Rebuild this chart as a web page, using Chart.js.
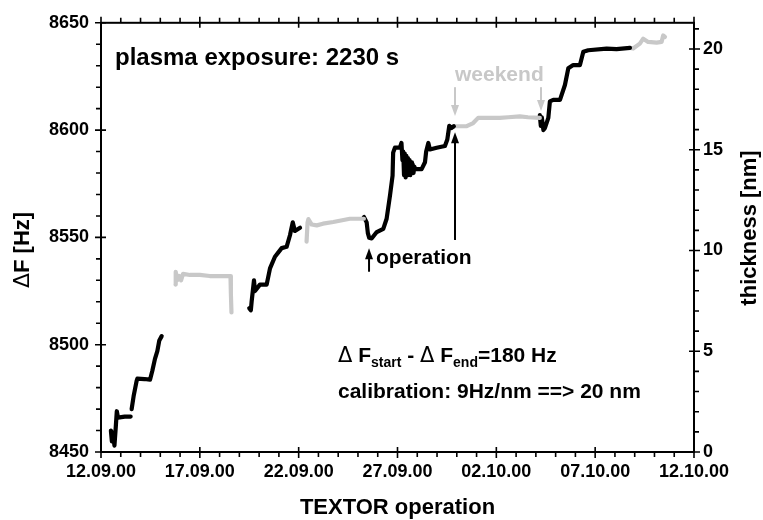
<!DOCTYPE html>
<html>
<head>
<meta charset="utf-8">
<script src="https://cdn.jsdelivr.net/npm/chart.js@4.4.0/dist/chart.umd.min.js"></script>
<style>
    html, body { margin: 0; padding: 0; background: #fff; }
    #wrap { width: 763px; height: 520px; }
</style>
</head>
<body>
<div id="wrap"><canvas id="chart"></canvas></div>
<script>
// x: days after 12.09.00, y: delta F in Hz
const dateLabels = ['12.09.00', '17.09.00', '22.09.00', '27.09.00', '02.10.00', '07.10.00', '12.10.00'];

// operation 1 (black)
const op1Days = [0.50, 0.55, 0.60, 0.68, 0.75, 0.80, 0.86, 1.20, 1.50, 1.52, 1.55, 1.65, 1.80, 1.84, 2.20, 2.48, 2.60, 2.73, 2.85, 2.95, 3.07];
const op1Hz   = [8460, 8455, 8459, 8453, 8462, 8469, 8466, 8466.5, 8466.5, null, 8470, 8476, 8483, 8484.2, 8484, 8483.7, 8488, 8493.4, 8497, 8502, 8504];
// weekend 1 (grey)
const wk1Days = [3.77, 3.78, 3.85, 3.95, 4.05, 4.15, 4.50, 5.00, 5.50, 6.00, 6.55, 6.57, 6.60];
const wk1Hz   = [8528, 8534, 8530, 8532, 8530, 8533, 8532.5, 8532.5, 8532, 8532, 8532, 8524, 8515];
// operation 2
const op2Days = [7.50, 7.58, 7.62, 7.74, 7.79, 8.04, 8.38, 8.55, 8.80, 9.14, 9.39, 9.56, 9.70, 9.81, 10.07];
const op2Hz   = [8517, 8516, 8520, 8530, 8525, 8528, 8528, 8535.6, 8541, 8545, 8545.6, 8551, 8557, 8553, 8554.5];
// weekend 2
const wk2Days = [10.40, 10.45, 10.49, 10.66, 10.91, 11.23, 11.75, 12.59, 13.30];
const wk2Hz   = [8548, 8557, 8558.5, 8556, 8555.6, 8556.4, 8557.2, 8558.7, 8558.7];
// operation 3
const op3Days = [13.30, 13.44, 13.50, 13.57, 13.69, 13.95, 14.28, 14.45, 14.62, 14.75, 14.78, 14.87, 15.12, 15.20, 15.25,
                 15.29, 15.33, 15.37, 15.41, 15.45, 15.49, 15.53, 15.57, 15.61, 15.65, 15.69, 15.73, 15.77, 15.81, 15.85, 15.90,
                 16.22, 16.39, 16.45, 16.56, 16.64, 16.98, 17.40, 17.52, 17.62, 17.74, 17.85];
const op3Hz   = [8559.5, 8557, 8552, 8549.8, 8549.5, 8552.5, 8554, 8558.7, 8569.5, 8578.7, 8589.5, 8591.8, 8591.8, 8594, 8586,
                 8590, 8579, 8589, 8578, 8588, 8579, 8587, 8580, 8586, 8579, 8585, 8580, 8584, 8580, 8583, 8581.8,
                 8581.8, 8585, 8590, 8594, 8591, 8591.8, 8592.6, 8595.6, 8602, 8601, 8601.8];
// weekend 3
const wk3Days = [17.85, 18.50, 18.83, 19.08, 20.18, 20.60, 21.19, 21.60, 22.20];
const wk3Hz   = [8601.8, 8601.8, 8603.3, 8605.7, 8605.7, 8606, 8606.4, 8606, 8605.7];
// operation 4
const op4Days = [22.20, 22.25, 22.30, 22.38, 22.46, 22.63, 22.71, 22.88, 23.22, 23.47, 23.64, 23.89, 24.23, 24.40, 24.65, 25.58, 26.08, 26.76];
const op4Hz   = [8607, 8602, 8606, 8600, 8601, 8605.7, 8613.4, 8614.1, 8614.1, 8621, 8628.8, 8630.3, 8630.3, 8636.5, 8637.2, 8638, 8637.7, 8638.3];
// after operation
const wk4Days = [26.76, 26.92, 27.26, 27.43, 27.68, 28.11, 28.36, 28.44, 28.53];
const wk4Hz   = [8638.3, 8638, 8640.3, 8642.6, 8641.1, 8640.8, 8641.1, 8644.1, 8643.4];

const BLACK = '#000000';
const GREY = '#c8c8c8';
const FONT = '"Liberation Sans", Arial, sans-serif';

function series(days, hz, color) {
    return {
        data: days.map((d, i) => ({ x: d, y: hz[i] })),
        borderColor: color,
        backgroundColor: color,
        borderWidth: 4.2,
        pointRadius: 0,
        tension: 0,
        spanGaps: false,
        borderJoinStyle: 'round',
        borderCapStyle: 'round',
        xAxisID: 'x',
        yAxisID: 'y'
    };
}

function arrow(ctx, x, y0, y1, color) {
    // line from y0 to y1, head at y1
    const dir = y1 > y0 ? 1 : -1;
    ctx.strokeStyle = color;
    ctx.fillStyle = color;
    ctx.lineWidth = 2;
    ctx.beginPath();
    ctx.moveTo(x, y0);
    ctx.lineTo(x, y1 - dir * 8);
    ctx.stroke();
    ctx.beginPath();
    ctx.moveTo(x, y1);
    ctx.lineTo(x - 4, y1 - dir * 11);
    ctx.lineTo(x + 4, y1 - dir * 11);
    ctx.closePath();
    ctx.fill();
}

function runs(ctx, x, y, parts, color) {
    ctx.fillStyle = color;
    ctx.textAlign = 'left';
    ctx.textBaseline = 'alphabetic';
    parts.forEach(p => {
        ctx.font = p.font;
        ctx.fillText(p.t, x, y + (p.dy || 0));
        x += ctx.measureText(p.t).width;
    });
}

const framePlugin = {
    id: 'frame',
    afterDatasetsDraw(chart) {
        const ctx = chart.ctx;
        const a = chart.chartArea;
        const { x, y, y2 } = chart.scales;
        ctx.save();
        ctx.strokeStyle = '#000';
        ctx.lineWidth = 2;
        ctx.strokeRect(a.left, a.top, a.right - a.left, a.bottom - a.top);

        ctx.lineWidth = 1.6;
        ctx.beginPath();
        for (let d = 0; d <= 30; d++) {
            const px = x.getPixelForValue(d);
            const major = d % 5 === 0;
            ctx.moveTo(px, a.bottom - (major ? 5 : 0));
            ctx.lineTo(px, a.bottom + (major ? 6 : 5));
            ctx.moveTo(px, a.top + (major ? 5 : 0));
            ctx.lineTo(px, a.top - (major ? 6 : 5));
        }
        for (let v = 8450; v <= 8650; v += 10) {
            const py = y.getPixelForValue(v);
            const major = v % 50 === 0;
            ctx.moveTo(a.left + (major ? 5 : 0), py);
            ctx.lineTo(a.left - (major ? 6 : 5), py);
        }
        for (let v = 0; v <= 21; v++) {
            const py = y2.getPixelForValue(v);
            const major = v % 5 === 0;
            ctx.moveTo(a.right - (major ? 5 : 0), py);
            ctx.lineTo(a.right + (major ? 6 : 5), py);
        }
        ctx.stroke();

        const b21 = 'bold 21px ' + FONT;
        const b22 = 'bold 22px ' + FONT;
        const sub = 'bold 14px ' + FONT;
        const delta = '21px "DejaVu Sans", ' + FONT;

        // axis titles
        ctx.fillStyle = '#000';
        ctx.font = b22;
        ctx.textAlign = 'center';
        ctx.textBaseline = 'middle';
        ctx.fillText('TEXTOR operation', (a.left + a.right) / 2, 508);
        ctx.save();
        ctx.translate(29, 288);
        ctx.rotate(-Math.PI / 2);
        runs(ctx, 0, 0, [
            { t: '\u0394', font: '22px "DejaVu Sans", ' + FONT },
            { t: 'F [Hz]', font: b22 }
        ], '#000');
        ctx.restore();
        ctx.save();
        ctx.translate(750, 228);
        ctx.rotate(-Math.PI / 2);
        ctx.textAlign = 'center';
        ctx.textBaseline = 'middle';
        ctx.font = b22;
        ctx.fillText('thickness [nm]', 0, 0);
        ctx.restore();

        // annotations
        ctx.textAlign = 'left';
        ctx.textBaseline = 'middle';
        ctx.font = 'bold 24px ' + FONT;
        ctx.fillText('plasma exposure: 2230 s', 115, 58);

        ctx.fillStyle = GREY;
        ctx.font = b21;
        ctx.fillText('weekend', 455, 75);
        arrow(ctx, x.getPixelForValue(17.91), y.getPixelForValue(8620), y.getPixelForValue(8606.6), GREY);
        arrow(ctx, x.getPixelForValue(22.26), y.getPixelForValue(8620), y.getPixelForValue(8608.9), GREY);

        ctx.fillStyle = '#000';
        ctx.font = b21;
        ctx.fillText('operation', 376, 258);
        arrow(ctx, x.getPixelForValue(13.56), y.getPixelForValue(8534), y.getPixelForValue(8545), BLACK);
        arrow(ctx, x.getPixelForValue(17.91), y.getPixelForValue(8548.8), y.getPixelForValue(8599), BLACK);

        runs(ctx, 338, 362, [
            { t: '\u0394', font: delta },
            { t: ' F', font: b21 },
            { t: 'start', font: sub, dy: 5 },
            { t: ' - ', font: b21 },
            { t: '\u0394', font: delta },
            { t: ' F', font: b21 },
            { t: 'end', font: sub, dy: 5 },
            { t: '=180 Hz', font: b21 }
        ], '#000');
        runs(ctx, 338, 398, [{ t: 'calibration: 9Hz/nm ==> 20 nm', font: b21 }], '#000');
        ctx.restore();
    }
};

const tickFont = { family: FONT, size: 18, weight: 'bold' };

new Chart(document.getElementById('chart'), {
    type: 'line',
    data: {
        datasets: [
            series(op1Days, op1Hz, BLACK),
            series(wk1Days, wk1Hz, GREY),
            series(op2Days, op2Hz, BLACK),
            series(wk2Days, wk2Hz, GREY),
            series(op3Days, op3Hz, BLACK),
            series(wk3Days, wk3Hz, GREY),
            series(op4Days, op4Hz, BLACK),
            series(wk4Days, wk4Hz, GREY)
        ]
    },
    options: {
        responsive: true,
        maintainAspectRatio: false,
        animation: false,
        layout: { padding: { top: 19, left: 0, right: 0, bottom: 0 } },
        plugins: { legend: { display: false }, tooltip: { enabled: false } },
        scales: {
            x: {
                type: 'linear', position: 'bottom', min: 0, max: 30,
                grid: { display: false, drawTicks: false },
                border: { display: false },
                ticks: {
                    stepSize: 5, autoSkip: false, maxRotation: 0, padding: 9,
                    color: '#000', font: tickFont,
                    callback: v => dateLabels[v / 5] || ''
                },
                afterFit: s => { s.height = 68; }
            },
            y: {
                type: 'linear', position: 'left', min: 8450, max: 8650,
                grid: { display: false, drawTicks: false },
                border: { display: false },
                ticks: { stepSize: 50, padding: 12, color: '#000', font: tickFont, callback: v => String(v) },
                afterFit: s => { s.width = 101; }
            },
            y2: {
                type: 'linear', position: 'right', min: 0, max: 21.3,
                grid: { display: false, drawTicks: false },
                border: { display: false },
                ticks: { stepSize: 5, includeBounds: false, padding: 9, color: '#000', font: tickFont, callback: v => String(v) },
                afterFit: s => { s.width = 69; }
            }
        }
    },
    plugins: [framePlugin]
});
</script>
</body>
</html>
